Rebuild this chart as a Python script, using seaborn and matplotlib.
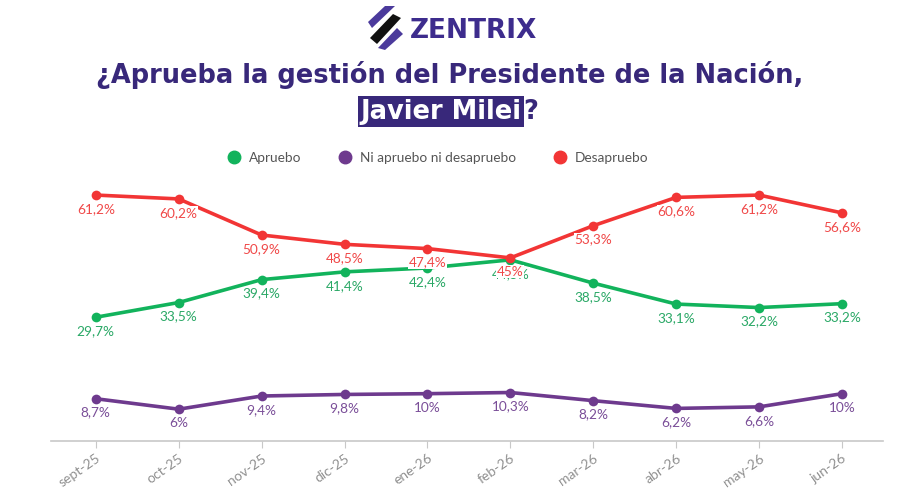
import pandas as pd
import matplotlib.pyplot as plt
import seaborn as sns
from matplotlib.lines import Line2D
from matplotlib.patches import Polygon

# Datos
meses = ['sept-25', 'oct-25', 'nov-25', 'dic-25', 'ene-26', 'feb-26',
         'mar-26', 'abr-26', 'may-26', 'jun-26']
apruebo = [29.7, 33.5, 39.4, 41.4, 42.4, 44.5, 38.5, 33.1, 32.2, 33.2]
ni_ni = [8.7, 6.0, 9.4, 9.8, 10.0, 10.3, 8.2, 6.2, 6.6, 10.0]
desapruebo = [61.2, 60.2, 50.9, 48.5, 47.4, 45.0, 53.3, 60.6, 61.2, 56.6]
etiquetas_apruebo = ['29,7%', '33,5%', '39,4%', '41,4%', '42,4%', '44,5%',
                     '38,5%', '33,1%', '32,2%', '33,2%']
etiquetas_ni = ['8,7%', '6%', '9,4%', '9,8%', '10%', '10,3%',
                '8,2%', '6,2%', '6,6%', '10%']
etiquetas_desapruebo = ['61,2%', '60,2%', '50,9%', '48,5%', '47,4%', '45%',
                        '53,3%', '60,6%', '61,2%', '56,6%']
series = ['Apruebo', 'Ni apruebo ni desapruebo', 'Desapruebo']

colores = {'Apruebo': '#12b35c', 'Ni apruebo ni desapruebo': '#6e3a8e',
           'Desapruebo': '#f23535'}
colores_txt = {'Apruebo': '#2aa866', 'Ni apruebo ni desapruebo': '#7a4e98',
               'Desapruebo': '#f04848'}

pos = list(range(len(meses)))
df = pd.DataFrame({
    'x': pos * 3,
    'valor': apruebo + ni_ni + desapruebo,
    'serie': [s for s in series for _ in meses],
})

sns.set_style('white')
plt.rcParams['font.family'] = ['Lato', 'DejaVu Sans']

fig = plt.figure(figsize=(9, 4.88), dpi=100)
ax = fig.add_axes([0.0567, 0.0963, 0.924, 0.535])

sns.lineplot(data=df, x='x', y='valor', hue='serie', palette=colores,
             marker='o', markersize=7, markeredgewidth=0, linewidth=2.6,
             legend=False, ax=ax)

# etiquetas de valores (la de feb-26 de Apruebo queda tapada, como en el original)
for s, vals, labs in [('Apruebo', apruebo, etiquetas_apruebo),
                      ('Ni apruebo ni desapruebo', ni_ni, etiquetas_ni),
                      ('Desapruebo', desapruebo, etiquetas_desapruebo)]:
    for xi, v, lab in zip(pos, vals, labs):
        ax.annotate(lab, (xi, v), xytext=(0, -10), textcoords='offset points',
                    ha='center', va='center', fontsize=9.8, color=colores_txt[s],
                    zorder=5,
                    bbox=dict(boxstyle='square,pad=0.05', fc='white', ec='none'))

ax.set_xlim(-0.54, 9.49)
ax.set_ylim(-2.2, 65.1)
ax.set_xticks(pos)
ax.set_xticklabels(meses, rotation=35, ha='right', rotation_mode='anchor',
                   color='#909090', fontsize=10)
ax.set_yticks([])
ax.set_xlabel('')
ax.set_ylabel('')
for sp in ['top', 'right', 'left']:
    ax.spines[sp].set_visible(False)
ax.spines['bottom'].set_color('#c8c8c8')
ax.spines['bottom'].set_linewidth(1.2)
ax.tick_params(axis='x', bottom=True, length=5, color='#c8c8c8', pad=3)

# leyenda
handles = [Line2D([], [], marker='o', linestyle='none', markersize=9,
                  color=colores[s]) for s in series]
fig.legend(handles, series, loc='center', bbox_to_anchor=(0.483, 0.676),
           ncol=3, frameon=False, fontsize=9.8, handletextpad=0.1,
           columnspacing=2.2, labelcolor='#555555')

# titulo
morado = '#38287a'
fig.text(0.5, 0.846, '¿Aprueba la gestión del Presidente de la Nación,',
         ha='center', va='center', fontsize=18.5, fontweight='bold',
         color=morado, family='DejaVu Sans')
fig.text(0.579, 0.771, 'Javier Milei', ha='right', va='center', fontsize=18.5,
         fontweight='bold', color='white', family='DejaVu Sans',
         bbox=dict(boxstyle='square,pad=0.1', fc=morado, ec='none'))
fig.text(0.581, 0.771, '?', ha='left', va='center', fontsize=18.5,
         fontweight='bold', color=morado, family='DejaVu Sans')

# logo
fig.text(0.455, 0.936, 'ZENTRIX', ha='left', va='center', fontsize=19,
         fontweight='bold', color='#3d2c8d', family='DejaVu Sans')
px = lambda x, y: (x / 900, 1 - y / 488)
for pts, c in [([(385, 6), (395, 6), (372, 28), (368, 22)], '#4b3a9c'),
               ([(393, 14), (401, 18), (377, 44), (370, 38)], '#111111'),
               ([(397, 28), (403, 34), (385, 50), (378, 48)], '#4b3a9c')]:
    fig.patches.append(Polygon([px(*p) for p in pts], closed=True, fc=c,
                               ec='none', transform=fig.transFigure))

fig.savefig('out.png', dpi=100, facecolor='white')
